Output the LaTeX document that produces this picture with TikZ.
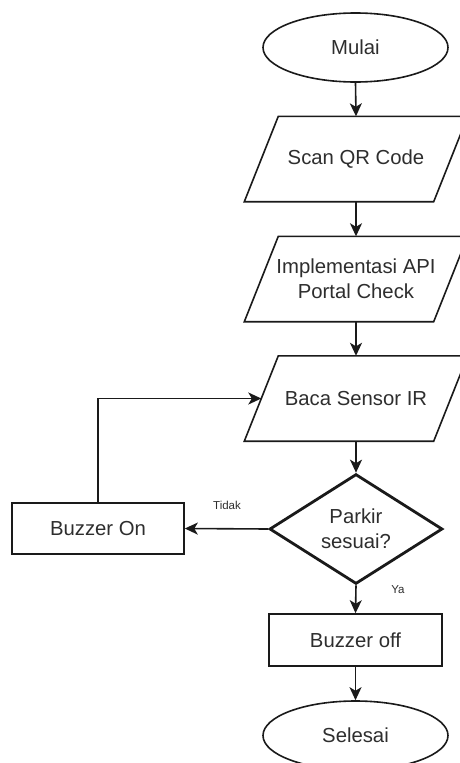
\documentclass[tikz,border=0pt]{standalone}
\usepackage{fontspec}
\setmainfont{Liberation Sans}
\usetikzlibrary{shapes.geometric,arrows.meta,calc}

\definecolor{ink}{HTML}{1A1A1A}
\definecolor{txt}{HTML}{2E2E2E}

\tikzset{
  base/.style={draw=ink, line width=1.6pt, text=txt, inner sep=0pt,
               font=\fontsize{20.3}{25}\selectfont, align=center},
  terminal/.style={base, ellipse, minimum width=185pt, minimum height=69pt},
  iobox/.style={text=txt, inner sep=0pt, font=\fontsize{20.3}{25}\selectfont,
                align=center, minimum width=189pt, minimum height=85pt},
  procbox/.style={base, rectangle, minimum height=51pt},
  decision/.style={base, diamond, line width=2.8pt,
                   minimum width=173pt, minimum height=102pt},
  flow/.style={draw=ink, line width=1.6pt,
               -{Stealth[length=13pt,width=12pt,inset=3.5pt]}},
  para/.style={draw=ink, line width=1.6pt, line join=miter},
  tag/.style={text=txt, font=\fontsize{11.5}{13}\selectfont, inner sep=0pt}
}

% parallelogram drawn around a text node: top edge shifted right, bottom left
\newcommand\slantframe[1]{%
  \draw[para] ([xshift=17pt]#1.north west) -- ([xshift=17pt]#1.north east)
    -- ([xshift=-17pt]#1.south east) -- ([xshift=-17pt]#1.south west) -- cycle;}

\begin{document}
\begin{tikzpicture}[x=1pt,y=-1pt]
  \clip (0,0) rectangle (460,763);
  \fill[white] (0,0) rectangle (460,763);

  \node[terminal] (mulai) at (355.5,47.5) {Mulai};

  \node[iobox] (scan) at (356,159) {Scan QR Code};
  \slantframe{scan}

  \node[iobox] (api) at (356,279) {Implementasi API\\Portal Check};
  \slantframe{api}

  \node[iobox] (baca) at (356,398.5) {Baca Sensor IR};
  \slantframe{baca}

  \node[decision] (cek) at (356,529) {Parkir\\sesuai?};

  \node[procbox, minimum width=172pt] (bon) at (98,528.5) {Buzzer On};
  \node[procbox, minimum width=173pt, minimum height=52pt] (boff) at (355.5,640) {Buzzer off};

  \node[terminal] (selesai) at (355.5,735.5) {Selesai};

  % main flow
  \draw[flow] (mulai.south) -- (scan.north);
  \draw[flow] (scan.south) -- (api.north);
  \draw[flow] (api.south) -- (baca.north);
  \draw[flow] (baca.south) -- (cek.north);
  \draw[flow] (cek.south) -- (boff.north);
  \draw[flow] (boff.south) -- (selesai.north);

  % branch back to the sensor reading
  \draw[flow] (cek.west) -- (bon.east);
  \draw[flow] (bon.north) |- (baca.west);

  \node[tag] (tidak) at (227,505) {Tidak};
  \node[tag] (ya) at (398,590) {Ya};
\end{tikzpicture}
\end{document}
